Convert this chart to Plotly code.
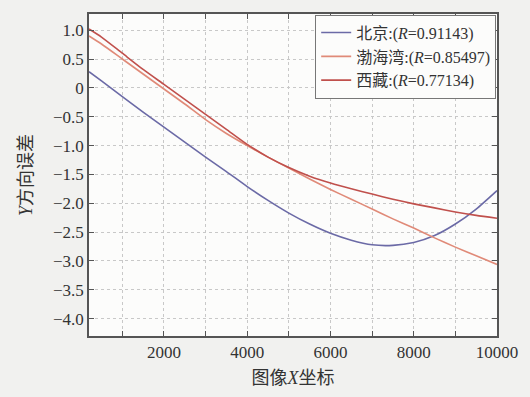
import plotly.graph_objects as go

x_vals = [200, 500, 1000, 1500, 2000, 2500, 3000, 3500, 4000, 4500, 5000,
          5500, 6000, 6500, 7000, 7500, 8000, 8500, 9000, 9500, 10000]

beijing = [0.28, 0.12, -0.15, -0.42, -0.68, -0.94, -1.20, -1.45, -1.71, -1.95, -2.17,
           -2.36, -2.52, -2.64, -2.72, -2.73, -2.68, -2.56, -2.36, -2.10, -1.78]
bohai = [0.90, 0.76, 0.50, 0.24, -0.02, -0.28, -0.55, -0.79, -1.00, -1.20, -1.39,
         -1.58, -1.76, -1.93, -2.10, -2.27, -2.43, -2.60, -2.76, -2.91, -3.06]
xizang = [1.02, 0.88, 0.60, 0.32, 0.06, -0.20, -0.46, -0.72, -0.98, -1.20, -1.38,
          -1.53, -1.65, -1.75, -1.84, -1.93, -2.01, -2.08, -2.15, -2.21, -2.26]

series_names = ["北京:(<i>R</i>=0.91143)", "渤海湾:(<i>R</i>=0.85497)", "西藏:(<i>R</i>=0.77134)"]
series_colors = ["#6b6aa6", "#e08a78", "#c0504c"]

x_tickvals = [1000, 2000, 3000, 4000, 5000, 6000, 7000, 8000, 9000, 10000]
x_ticktext = ["", "2000", "", "4000", "", "6000", "", "8000", "", "10000"]
y_tickvals = [1.0, 0.5, 0, -0.5, -1.0, -1.5, -2.0, -2.5, -3.0, -3.5, -4.0]
y_ticktext = ["1.0", "0.5", "0", "−0.5", "−1.0", "−1.5", "−2.0", "−2.5", "−3.0", "−3.5", "−4.0"]

font_family = "Liberation Serif, Noto Sans CJK SC, serif"

fig = go.Figure()
for name, ys, col in zip(series_names, [beijing, bohai, xizang], series_colors):
    fig.add_trace(go.Scatter(x=x_vals, y=ys, mode="lines", name=name,
                             line=dict(color=col, width=1.6, shape="spline", smoothing=0.6)))

axis_common = dict(
    showline=True, linecolor="#555555", linewidth=1.5, mirror="ticks",
    ticks="inside", ticklen=5, tickcolor="#555555",
    showgrid=True, gridcolor="#c8c8c8", griddash="dot", gridwidth=1,
    zeroline=False, tickfont=dict(family=font_family, size=17, color="#333333"),
)

fig.update_layout(
    width=530, height=397,
    margin=dict(l=89, r=29, t=14, b=59),
    paper_bgcolor="#f1f1ef", plot_bgcolor="#fcfcfb",
    font=dict(family=font_family, color="#333333"),
    xaxis=dict(range=[200, 10000], tickvals=x_tickvals, ticktext=x_ticktext,
               title=dict(text="图像<i>X</i>坐标", font=dict(family=font_family, size=18), standoff=10),
               **axis_common),
    yaxis=dict(range=[-4.3, 1.28], tickvals=y_tickvals, ticktext=y_ticktext,
               title=dict(text="<i>Y</i>方向误差", font=dict(family=font_family, size=18), standoff=16),
               **axis_common),
    legend=dict(x=0.998, y=0.998, xanchor="right", yanchor="top",
                bgcolor="#fcfcfb", bordercolor="#777777", borderwidth=1,
                font=dict(family=font_family, size=16, color="#333333"),
                tracegroupgap=0, itemwidth=30),
    showlegend=True,
)

fig.write_html("out.html")
